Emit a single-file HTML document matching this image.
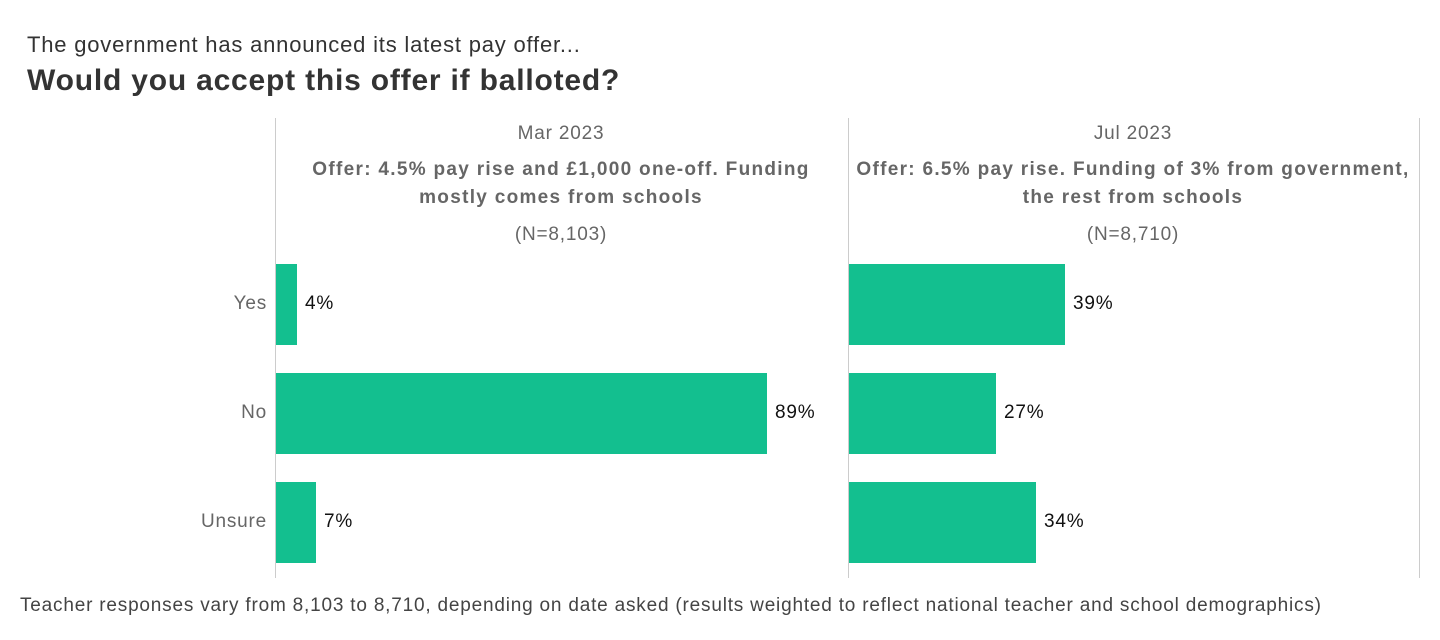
<!DOCTYPE html>
<html><head><meta charset="utf-8"><style>
body{margin:0;width:1440px;height:640px;background:#fff;font-family:"Liberation Sans",sans-serif;position:relative;overflow:hidden;letter-spacing:0.8px}
div{position:absolute;white-space:nowrap}
.t{line-height:1}
.c{text-align:center;transform:translateX(-50%)}
.g{color:#666;font-size:19px}
.b{font-weight:bold}
.bar{background:#13bf8f;height:81px}
.v{font-size:19px;color:#111}
.cat{font-size:19px;color:#666;text-align:right;width:240px;left:27px}
.ln{width:1px;background:#ccc;top:118px;height:460px}
</style></head><body>
<div class="t" style="left:27px;top:34px;font-size:22px;color:#333">The government has announced its latest pay offer...</div>
<div class="t b" style="left:27px;top:66px;font-size:30px;color:#333">Would you accept this offer if balloted?</div>

<div class="ln" style="left:275px"></div>
<div class="ln" style="left:848px"></div>
<div class="ln" style="left:1419px"></div>

<div class="t g c" style="left:561px;top:124px">Mar 2023</div>
<div class="g b c" style="left:561px;top:156px;line-height:28px;text-align:center;letter-spacing:1.3px">Offer: 4.5% pay rise and £1,000 one-off. Funding<br>mostly comes from schools</div>
<div class="t g c" style="left:561px;top:225px">(N=8,103)</div>

<div class="t g c" style="left:1133px;top:124px">Jul 2023</div>
<div class="g b c" style="left:1133px;top:156px;line-height:28px;text-align:center;letter-spacing:1.3px">Offer: 6.5% pay rise. Funding of 3% from government,<br>the rest from schools</div>
<div class="t g c" style="left:1133px;top:225px">(N=8,710)</div>

<div class="t cat" style="top:294px">Yes</div>
<div class="t cat" style="top:403px">No</div>
<div class="t cat" style="top:512px">Unsure</div>

<div class="bar" style="left:276px;top:264px;width:21px"></div>
<div class="t v" style="left:305px;top:294px">4%</div>
<div class="bar" style="left:276px;top:373px;width:491px"></div>
<div class="t v" style="left:775px;top:403px">89%</div>
<div class="bar" style="left:276px;top:482px;width:40px"></div>
<div class="t v" style="left:324px;top:512px">7%</div>

<div class="bar" style="left:849px;top:264px;width:216px"></div>
<div class="t v" style="left:1073px;top:294px">39%</div>
<div class="bar" style="left:849px;top:373px;width:147px"></div>
<div class="t v" style="left:1004px;top:403px">27%</div>
<div class="bar" style="left:849px;top:482px;width:187px"></div>
<div class="t v" style="left:1044px;top:512px">34%</div>

<div class="t" style="left:20px;top:596px;font-size:19px;color:#444">Teacher responses vary from 8,103 to 8,710, depending on date asked (results weighted to reflect national teacher and school demographics)</div>
</body></html>
